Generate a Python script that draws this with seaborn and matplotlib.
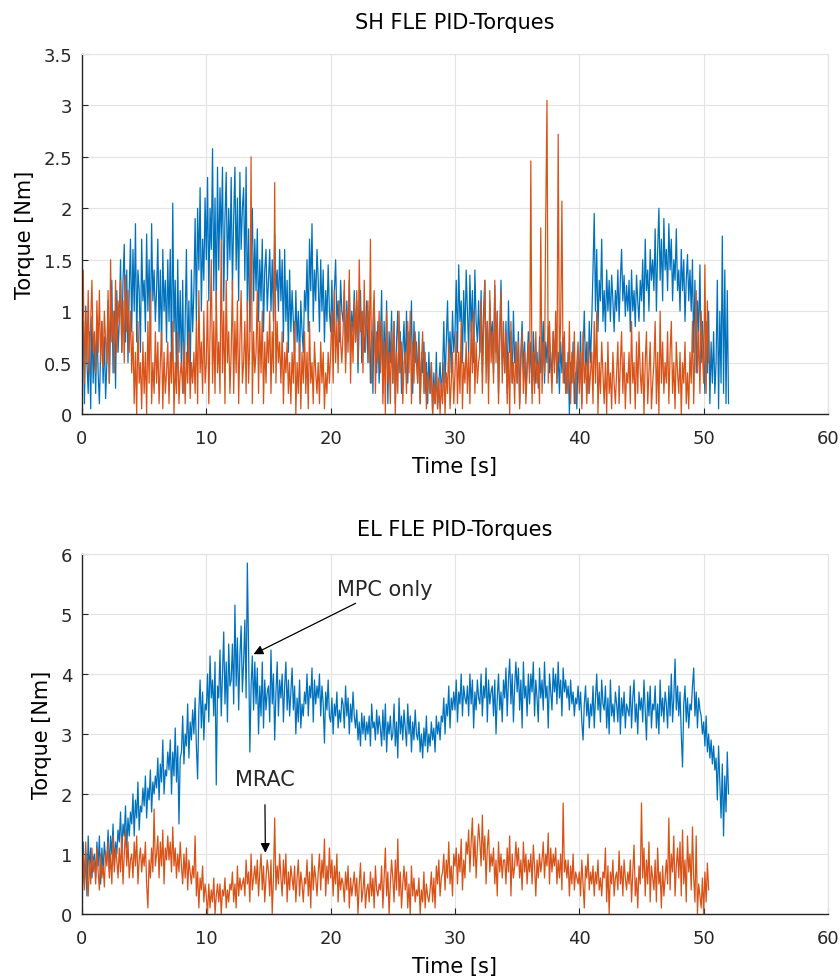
import numpy as np
import pandas as pd
import matplotlib
matplotlib.use("Agg")
import matplotlib.pyplot as plt
import seaborn as sns

DT = 0.1  # spacing of the read-off samples [s]

# SH FLE, MPC only (blue); one row per second
sh_mpc = [
    0.4, 0.9, 0.1, 1.05, 0.5, 0.2, 0.8, 0.05, 0.95, 0.3,
    0.7, 0.2, 0.85, 0.4, 0.1, 0.6, 0.9, 0.3, 0.75, 0.15,
    0.5, 1.1, 0.3, 0.9, 1.3, 0.4, 1.0, 0.25, 1.2, 0.6,
    0.9, 1.5, 0.6, 1.3, 1.65, 0.7, 1.4, 0.5, 1.2, 1.7,
    0.8, 1.6, 1.0, 1.85, 0.7, 1.4, 1.2, 0.6, 1.7, 1.1,
    1.3, 0.8, 1.75, 1.0, 1.5, 0.7, 1.85, 1.1, 1.4, 0.9,
    1.2, 1.7, 0.8, 1.4, 0.6, 1.6, 1.0, 1.3, 0.7, 1.5,
    0.9, 1.6, 0.5, 2.05, 0.8, 1.3, 0.3, 1.5, 0.6, 1.2,
    0.4, 1.3, 0.2, 0.9, 1.6, 0.5, 1.1, 0.3, 1.4, 0.8,
    1.2, 1.9, 0.9, 2.0, 1.4, 2.2, 1.0, 1.7, 1.3, 2.1,
    1.5, 2.3, 1.1, 2.0, 1.6, 2.58, 1.2, 2.1, 1.0, 2.4,
    1.4, 2.2, 1.7, 2.4, 1.1, 1.9, 2.35, 1.3, 2.0, 1.5,
    2.3, 1.2, 1.9, 2.4, 1.4, 2.1, 1.1, 2.35, 1.6, 2.0,
    2.2, 1.3, 2.4, 1.0, 1.8, 0.8, 1.5, 2.0, 1.1, 1.7,
    1.2, 1.8, 0.9, 1.5, 1.1, 1.7, 0.8, 1.4, 1.6, 1.0,
    1.3, 1.6, 1.0, 1.5, 0.9, 1.75, 1.2, 1.4, 1.0, 1.6,
    1.1, 1.5, 0.7, 1.6, 0.9, 1.3, 0.6, 1.4, 0.8, 1.2,
    0.9, 0.6, 1.2, 0.7, 1.0, 0.5, 1.1, 0.8, 0.6, 1.2,
    1.0, 1.5, 0.8, 1.7, 1.2, 1.85, 0.9, 1.4, 1.1, 1.6,
    1.3, 0.8, 1.5, 1.0, 1.4, 0.7, 1.2, 0.9, 1.45, 1.0,
    0.8, 1.3, 0.6, 1.2, 1.5, 0.9, 1.1, 0.7, 1.3, 1.0,
    0.9, 1.2, 0.5, 1.1, 0.7, 1.3, 0.6, 1.0, 0.8, 1.2,
    0.7, 1.1, 0.4, 0.9, 1.2, 0.5, 1.0, 0.6, 0.8, 1.1,
    0.5, 1.0, 0.3, 0.8, 0.2, 1.1, 0.6, 0.4, 0.9, 0.3,
    0.7, 1.2, 0.2, 0.9, 0.4, 1.1, 0.1, 0.8, 0.5, 1.0,
    0.3, 0.9, 0.1, 0.7, 1.0, 0.4, 0.8, 0.2, 0.6, 0.9,
    0.4, 1.0, 0.3, 0.8, 0.6, 1.1, 0.2, 0.9, 0.5, 0.7,
    0.3, 0.8, 0.1, 0.6, 0.4, 0.7, 0.2, 0.5, 0.1, 0.6,
    0.2, 0.5, 0.0, 0.4, 0.1, 0.6, 0.05, 0.3, 0.5, 0.2,
    0.4, 0.9, 0.3, 0.7, 1.1, 0.5, 0.8, 0.4, 1.0, 0.6,
    0.8, 1.3, 0.6, 1.45, 0.9, 1.1, 0.5, 1.2, 0.7, 1.4,
    1.0, 0.6, 1.35, 0.8, 1.2, 0.5, 1.4, 0.9, 0.7, 1.1,
    0.6, 1.2, 0.4, 1.0, 1.3, 0.5, 0.9, 0.3, 1.1, 0.7,
    0.9, 0.4, 1.25, 0.6, 1.0, 0.2, 0.8, 1.3, 0.5, 0.7,
    0.4, 0.9, 0.2, 1.1, 0.6, 0.8, 0.3, 1.0, 0.5, 0.7,
    0.3, 0.8, 0.1, 0.6, 0.9, 0.4, 0.7, 0.2, 0.5, 0.8,
    0.4, 0.7, 0.2, 0.8, 0.5, 0.3, 0.6, 0.25, 0.75, 0.4,
    0.6, 0.9, 0.3, 0.7, 0.5, 0.85, 0.4, 0.6, 0.3, 0.8,
    0.5, 0.8, 0.3, 0.6, 0.2, 0.7, 0.4, 0.75, 0.3, 0.5,
    0.2, 0.6, 0.0, 0.5, 0.3, 0.7, 0.1, 0.4, 0.05, 0.6,
    0.3, 0.8, 0.1, 0.6, 1.0, 0.4, 0.7, 0.2, 0.9, 0.5,
    0.9, 1.4, 1.95, 1.0, 1.6, 0.8, 1.3, 1.1, 1.7, 0.9,
    1.2, 0.8, 1.4, 1.0, 1.3, 0.9, 1.35, 1.1, 0.8, 1.2,
    1.0, 1.4, 0.9, 1.3, 1.6, 1.1, 1.35, 0.95, 1.25, 1.0,
    1.3, 0.8, 1.4, 1.0, 1.2, 0.85, 1.35, 1.1, 0.9, 1.3,
    1.1, 1.5, 0.9, 1.7, 1.2, 1.4, 1.0, 1.6, 1.3, 1.5,
    1.2, 1.8, 1.0, 1.6, 2.0, 1.3, 1.7, 1.1, 1.9, 1.4,
    1.6, 1.2, 1.85, 1.4, 1.7, 1.1, 1.5, 1.3, 1.8, 1.2,
    1.4, 1.0, 1.6, 1.2, 1.5, 0.9, 1.3, 1.55, 1.1, 1.4,
    1.0, 1.5, 0.6, 1.3, 0.4, 1.1, 0.8, 1.45, 0.5, 0.9,
    0.6, 0.2, 0.9, 0.4, 1.0, 0.1, 0.7, 0.3, 0.8, 0.2,
    0.5, 1.3, 0.05, 1.0, 0.3, 1.73, 0.2, 1.4, 0.1, 1.2,
    0.1,
]

# SH FLE, MRAC (orange)
sh_mrac = [
    0.7, 1.4, 0.3, 1.0, 0.5, 1.2, 0.4, 0.9, 1.3, 0.6,
    0.8, 0.4, 1.1, 0.6, 1.2, 0.5, 0.9, 0.45, 1.0, 0.7,
    0.5, 1.2, 0.3, 1.5, 0.7, 1.0, 0.4, 1.3, 0.6, 1.1,
    0.9, 1.3, 0.6, 1.1, 0.5, 1.35, 0.8, 1.2, 0.6, 1.0,
    0.4, 0.8, 0.1, 0.6, 0.0, 0.9, 0.3, 0.5, 0.05, 0.7,
    0.2, 0.6, 0.0, 0.9, 0.3, 1.2, 0.1, 0.5, 0.2, 0.8,
    0.3, 0.7, 0.1, 0.5, 0.8, 0.05, 0.6, 0.2, 0.4, 0.7,
    0.1, 0.6, 0.3, 0.9, 0.0, 0.5, 0.2, 0.8, 0.1, 0.4,
    0.5, 0.2, 0.7, 0.1, 0.6, 0.3, 0.8, 0.15, 0.5, 0.3,
    0.6, 0.2, 0.9, 0.1, 1.2, 0.4, 0.7, 0.2, 1.0, 0.3,
    0.5, 1.1, 0.1, 0.8, 1.5, 0.3, 0.9, 0.2, 1.2, 0.4,
    0.7, 0.2, 1.7, 0.4, 1.0, 0.1, 1.3, 0.5, 0.8, 0.2,
    0.6, 1.3, 0.2, 0.9, 0.4, 1.1, 0.1, 0.7, 1.2, 0.3,
    0.5, 0.9, 0.2, 1.1, 0.3, 0.7, 2.5, 0.1, 0.8, 0.4,
    0.6, 1.2, 0.2, 0.9, 0.4, 1.0, 0.1, 0.7, 0.3, 0.8,
    0.5, 1.0, 0.2, 0.8, 0.4, 2.25, 0.3, 0.9, 0.5, 0.7,
    0.3, 0.8, 0.1, 0.6, 0.4, 0.7, 0.2, 0.5, 0.1, 0.6,
    0.3, 0.9, 0.0, 0.5, 0.2, 0.7, 0.05, 0.6, 0.3, 0.8,
    0.2, 0.6, 0.05, 0.9, 0.3, 0.5, 0.1, 0.7, 0.4, 0.2,
    0.5, 0.1, 0.7, 0.3, 0.6, 0.05, 0.4, 0.2, 0.6, 0.3,
    0.6, 1.0, 0.3, 1.2, 0.5, 0.9, 0.4, 1.1, 0.7, 0.5,
    0.8, 1.3, 0.4, 1.0, 0.6, 1.4, 0.3, 0.9, 0.5, 1.1,
    0.7, 1.2, 0.5, 1.5, 0.8, 1.0, 0.4, 1.3, 0.6, 0.9,
    1.1, 0.5, 1.7, 0.3, 0.9, 1.2, 0.2, 0.8, 0.5, 1.0,
    0.4, 0.9, 0.1, 0.7, 0.0, 1.0, 0.3, 0.6, 0.1, 0.8,
    0.3, 0.9, 0.0, 0.6, 0.2, 1.0, 0.4, 0.7, 0.1, 0.5,
    0.6, 0.2, 0.9, 0.4, 1.0, 0.1, 0.7, 0.3, 0.8, 0.5,
    0.3, 0.7, 0.1, 0.5, 0.8, 0.2, 0.6, 0.05, 0.4, 0.3,
    0.2, 0.5, 0.0, 0.3, 0.1, 0.4, 0.05, 0.35, 0.0, 0.3,
    0.1, 0.5, 0.0, 0.4, 0.2, 0.7, 0.05, 0.3, 0.6, 0.1,
    0.4, 0.8, 0.1, 0.6, 0.2, 0.9, 0.05, 0.5, 0.3, 0.7,
    0.2, 0.6, 0.1, 0.9, 0.4, 1.0, 0.2, 0.7, 0.3, 0.5,
    0.6, 1.1, 0.2, 0.8, 1.3, 0.3, 0.9, 0.1, 1.2, 0.5,
    0.8, 0.3, 1.3, 0.5, 1.0, 0.1, 0.7, 1.2, 0.3, 0.9,
    0.4, 0.8, 0.1, 0.6, 0.0, 0.9, 0.3, 0.5, 0.1, 0.7,
    0.3, 0.7, 0.05, 0.5, 0.8, 0.2, 0.6, 0.1, 0.4, 0.7,
    0.3, 2.46, 0.1, 0.6, 0.2, 0.8, 0.3, 0.5, 0.1, 1.81,
    0.2, 0.7, 0.4, 1.94, 3.05, 0.3, 0.9, 0.5, 0.2, 0.8,
    0.4, 1.0, 0.3, 2.72, 0.5, 0.9, 2.07, 0.3, 0.8, 0.2,
    0.5, 0.2, 0.9, 0.1, 0.6, 0.3, 0.8, 0.1, 0.5, 0.7,
    0.2, 0.6, 0.05, 0.8, 0.3, 0.5, 0.1, 0.7, 0.2, 0.4,
    0.6, 0.1, 0.9, 0.3, 1.0, 0.0, 0.5, 0.2, 0.7, 0.4,
    0.1, 0.5, 0.0, 0.7, 0.2, 0.4, 0.05, 0.6, 0.3, 0.1,
    0.4, 0.7, 0.1, 0.5, 0.8, 0.2, 0.6, 0.05, 0.4, 0.3,
    0.6, 0.1, 0.9, 0.3, 0.5, 0.05, 0.7, 0.2, 0.8, 0.4,
    0.2, 0.6, 0.0, 0.5, 0.8, 0.1, 0.4, 0.7, 0.05, 0.3,
    0.5, 0.9, 0.1, 0.6, 0.0, 1.0, 0.3, 0.7, 0.2, 0.5,
    0.3, 0.8, 0.1, 0.6, 0.9, 0.2, 0.5, 0.05, 0.7, 0.4,
    0.2, 0.6, 0.0, 0.5, 0.3, 0.7, 0.1, 0.4, 0.05, 0.6,
    0.3, 0.9, 0.1, 0.7, 1.2, 0.4, 0.8, 0.2, 1.0, 0.6,
    0.3, 1.45, 0.2, 1.1, 0.5,
]

# EL FLE, MPC only (blue)
el_mpc = [
    0.8, 1.2, 0.5, 1.0, 0.3, 1.3, 0.7, 1.1, 0.6, 0.9,
    1.0, 0.6, 1.2, 0.8, 1.3, 0.5, 1.1, 0.7, 1.2, 0.9,
    0.9, 1.4, 0.7, 1.3, 1.0, 1.5, 0.8, 1.2, 1.0, 1.4,
    1.2, 1.7, 1.0, 1.5, 1.3, 1.8, 1.1, 1.6, 1.3, 1.7,
    1.5, 2.0, 1.3, 1.9, 1.6, 2.2, 1.4, 1.8, 1.7, 2.1,
    1.8, 2.3, 1.6, 2.1, 1.9, 2.4, 1.7, 2.2, 2.0, 2.3,
    2.1, 2.6, 1.9, 2.5, 2.2, 2.9, 2.0, 2.4, 2.3, 2.7,
    2.4, 2.9, 2.0, 2.7, 2.3, 3.1, 2.2, 2.8, 1.5, 2.6,
    2.7, 3.3, 2.5, 3.0, 2.8, 3.5, 2.6, 3.2, 2.9, 3.4,
    3.0, 3.6, 2.8, 2.25, 3.4, 3.9, 3.1, 3.7, 2.9, 3.5,
    3.4, 4.0, 3.2, 4.3, 3.6, 3.9, 3.3, 4.2, 2.15, 3.8,
    3.6, 4.4, 3.3, 4.0, 4.7, 3.5, 4.2, 3.2, 4.5, 3.8,
    3.9, 4.5, 3.5, 5.15, 3.8, 4.6, 3.4, 4.3, 4.8, 3.7,
    4.2, 4.9, 3.6, 5.85, 4.4, 2.7, 3.8, 4.3, 3.4, 4.2,
    3.5, 4.1, 3.0, 3.8, 3.3, 4.2, 3.1, 3.9, 3.4, 3.7,
    3.8, 3.2, 4.4, 3.5, 4.0, 2.9, 3.7, 4.2, 3.3, 3.9,
    3.6, 4.0, 3.2, 3.8, 4.2, 3.4, 3.9, 3.3, 3.7, 4.1,
    3.4, 3.8, 3.0, 3.6, 3.2, 3.9, 3.1, 3.5, 3.3, 3.7,
    3.5, 4.0, 3.3, 3.8, 3.6, 4.1, 3.2, 3.9, 3.5, 3.8,
    3.6, 4.0, 3.3, 3.8, 3.5, 2.85, 3.7, 3.4, 3.9, 3.3,
    3.2, 3.6, 3.0, 3.5, 3.3, 3.7, 3.1, 3.4, 3.2, 3.6,
    3.5, 3.1, 3.8, 3.3, 3.6, 3.0, 3.5, 3.2, 3.7, 3.3,
    3.1, 3.4, 2.9, 3.2, 2.8, 3.35, 3.0, 3.3, 2.9, 3.2,
    3.0, 3.3, 2.8, 3.5, 3.1, 3.2, 2.9, 3.4, 3.0, 3.3,
    3.1, 2.8, 3.4, 2.9, 3.5, 2.7, 3.2, 3.0, 3.3, 2.9,
    3.0, 3.5, 2.8, 3.2, 2.6, 3.6, 3.0, 3.3, 2.9, 3.4,
    3.1, 2.8, 3.5, 3.0, 3.3, 2.7, 3.2, 2.9, 3.4, 3.0,
    2.9, 3.2, 2.7, 3.0, 2.6, 3.1, 2.8, 3.3, 2.7, 3.0,
    2.8, 3.2, 2.9, 3.1, 2.7, 3.3, 3.0, 3.2, 2.9, 3.3,
    3.2, 3.6, 3.0, 3.5, 3.3, 3.8, 3.1, 3.6, 3.4, 3.7,
    3.4, 3.9, 3.2, 3.7, 3.5, 4.0, 3.3, 3.8, 3.6, 3.5,
    3.8, 3.3, 4.0, 3.5, 3.9, 3.1, 3.7, 3.4, 3.9, 3.6,
    3.5, 4.0, 3.3, 3.8, 3.6, 4.1, 3.2, 3.9, 3.5, 3.7,
    3.8, 3.3, 3.9, 3.0, 3.6, 4.0, 3.4, 3.7, 3.2, 3.9,
    3.6, 4.1, 3.3, 3.9, 4.25, 3.5, 4.0, 3.2, 3.8, 4.2,
    3.7, 4.1, 3.4, 3.9, 3.1, 4.2, 3.6, 3.8, 3.3, 4.0,
    3.5, 4.0, 3.7, 4.2, 3.3, 3.9, 3.6, 3.2, 4.1, 3.6,
    3.9, 3.4, 4.2, 3.6, 3.8, 3.1, 4.0, 3.7, 3.4, 4.1,
    3.7, 4.0, 3.5, 4.2, 3.6, 3.9, 3.3, 4.1, 3.7, 3.9,
    3.6, 3.8, 3.4, 3.9, 3.5, 3.7, 3.3, 3.6, 3.5, 3.8,
    3.4, 3.7, 3.2, 2.9, 3.5, 3.8, 3.3, 3.6, 3.1, 3.5,
    3.3, 3.8, 3.1, 3.6, 4.0, 3.4, 3.7, 3.2, 3.9, 3.5,
    3.4, 3.8, 3.1, 3.6, 3.0, 3.9, 3.3, 3.5, 3.2, 3.7,
    3.5, 3.2, 3.8, 3.0, 3.6, 3.3, 3.7, 3.1, 3.5, 3.4,
    3.3, 3.8, 3.1, 3.6, 3.9, 3.2, 3.5, 3.0, 3.7, 3.4,
    3.6, 3.2, 3.9, 3.4, 2.9, 3.7, 3.3, 3.8, 3.1, 3.5,
    3.4, 3.8, 3.1, 3.5, 3.0, 3.9, 3.3, 3.6, 3.2, 3.7,
    3.5, 3.1, 3.8, 3.3, 4.0, 3.2, 3.6, 4.25, 3.4, 3.8,
    3.3, 3.7, 3.0, 2.45, 3.5, 3.8, 3.2, 3.6, 3.1, 3.5,
    3.4, 3.8, 4.1, 3.3, 3.7, 3.1, 3.6, 3.4, 3.3, 3.0,
    3.2, 2.8, 3.3, 2.7, 3.0, 2.6, 2.9, 2.5, 2.8, 2.4,
    2.6, 1.9, 2.8, 2.2, 1.6, 2.5, 1.3, 2.3, 1.7, 2.7,
    2.0,
]

# EL FLE, MRAC (orange)
el_mrac = [
    0.0, 1.0, 0.4, 1.2, 0.6, 0.3, 0.9, 0.5, 1.1, 0.7,
    0.9, 0.5, 1.1, 0.7, 0.4, 1.0, 0.6, 0.8, 0.45, 1.05,
    0.8, 1.2, 0.6, 1.0, 0.5, 1.3, 0.7, 1.1, 0.9, 0.6,
    1.1, 0.7, 1.3, 0.5, 1.0, 1.4, 0.8, 1.2, 0.6, 0.9,
    1.0, 0.6, 1.2, 0.8, 1.3, 0.5, 0.9, 1.1, 0.7, 1.0,
    0.8, 1.2, 0.5, 0.1, 0.9, 0.6, 1.1, 0.7, 1.75, 0.8,
    1.0, 1.3, 0.6, 1.2, 0.8, 1.4, 0.5, 1.1, 0.9, 1.3,
    0.9, 1.2, 0.7, 1.45, 0.8, 1.1, 0.6, 1.0, 0.7, 1.2,
    0.8, 0.5, 1.0, 0.6, 1.1, 0.4, 0.9, 0.7, 0.5, 0.8,
    0.6, 1.3, 0.3, 0.7, 0.1, 0.6, 0.4, 0.8, 0.2, 0.5,
    0.3, 0.0, 0.5, 0.1, 0.4, 0.2, 0.6, 0.0, 0.3, 0.5,
    0.2, 0.5, 0.0, 0.4, 0.3, 0.6, 0.1, 0.4, 0.2, 0.5,
    0.4, 0.7, 0.2, 0.5, 0.1, 0.8, 0.3, 0.6, 0.4, 0.5,
    0.6, 0.3, 0.9, 0.5, 0.7, 0.2, 1.0, 0.4, 0.6, 0.8,
    0.5, 0.9, 0.3, 0.7, 1.0, 0.4, 0.8, 0.2, 0.6, 0.9,
    0.7, 0.3, 0.9, 0.0, 0.6, 1.6, 0.4, 0.8, 0.5, 1.0,
    0.6, 0.3, 0.9, 0.5, 1.0, 0.2, 0.7, 0.4, 0.8, 0.6,
    0.4, 0.8, 0.2, 0.6, 0.9, 0.3, 0.7, 0.5, 0.2, 0.6,
    0.5, 0.9, 0.3, 0.7, 0.1, 1.0, 0.4, 0.8, 0.6, 0.3,
    0.7, 1.0, 0.4, 0.9, 0.6, 1.25, 0.3, 0.8, 0.5, 1.1,
    0.6, 0.9, 0.3, 0.8, 0.5, 1.0, 0.2, 0.7, 0.4, 0.6,
    0.5, 0.2, 0.7, 0.4, 0.8, 0.1, 0.6, 0.3, 0.5, 0.7,
    0.3, 0.6, 0.0, 0.5, 0.85, 0.2, 0.4, 0.7, 0.1, 0.4,
    0.5, 0.2, 0.7, 0.3, 0.6, 0.1, 0.8, 0.4, 0.3, 0.5,
    0.4, 0.8, 0.1, 0.6, 1.1, 0.3, 0.7, 0.0, 0.5, 0.9,
    0.6, 0.2, 0.9, 0.4, 1.25, 0.3, 0.7, 0.1, 0.5, 0.8,
    0.4, 0.7, 0.1, 0.5, 0.0, 0.8, 0.3, 0.6, 0.2, 0.4,
    0.3, 0.6, 0.0, 0.4, 0.2, 0.7, 0.1, 0.5, 0.3, 0.2,
    0.4, 0.7, 0.2, 0.6, 0.1, 0.8, 0.5, 0.9, 0.3, 0.6,
    0.7, 1.0, 0.4, 0.9, 0.6, 1.2, 0.5, 0.8, 0.3, 1.0,
    0.8, 1.1, 0.5, 1.0, 0.7, 1.25, 0.4, 0.9, 0.6, 1.2,
    1.0, 1.4, 0.7, 1.2, 1.6, 0.8, 1.3, 0.6, 1.1, 1.5,
    1.2, 0.8, 1.65, 0.9, 1.3, 0.5, 1.1, 1.4, 0.7, 1.0,
    0.8, 1.1, 0.5, 0.9, 0.3, 1.2, 0.7, 1.0, 0.6, 0.9,
    0.9, 0.5, 1.1, 0.7, 1.3, 0.3, 1.0, 0.6, 0.8, 1.2,
    0.8, 1.1, 0.6, 0.9, 0.4, 1.2, 0.7, 1.0, 0.5, 0.9,
    0.7, 1.0, 0.5, 1.15, 0.8, 0.3, 0.9, 0.6, 1.0, 0.7,
    0.9, 1.2, 0.6, 1.0, 0.8, 1.35, 0.5, 1.1, 0.7, 1.0,
    0.8, 1.1, 0.5, 0.9, 0.6, 1.0, 0.4, 1.85, 0.7, 0.9,
    0.6, 0.9, 0.3, 0.8, 0.5, 1.0, 0.4, 0.7, 0.6, 0.5,
    0.7, 0.3, 0.9, 0.5, 0.1, 0.8, 0.6, 1.0, 0.4, 0.7,
    0.5, 0.8, 0.3, 0.7, 0.5, 0.9, 0.4, 0.6, 0.3, 0.7,
    0.6, 1.1, 0.2, 0.8, 0.0, 0.7, 0.5, 0.9, 0.3, 0.6,
    0.7, 0.4, 1.05, 0.5, 0.8, 0.3, 0.9, 0.6, 0.4, 0.7,
    0.5, 0.9, 0.2, 0.7, 1.15, 0.3, 0.6, 0.1, 0.8, 0.5,
    1.85, 0.6, 1.1, 0.3, 0.9, 0.5, 1.2, 0.2, 0.8, 0.6,
    0.4, 0.9, 0.2, 1.1, 0.5, 0.7, 0.1, 0.8, 0.3, 0.6,
    0.9, 0.5, 1.6, 0.4, 1.0, 0.7, 1.3, 0.3, 0.8, 1.1,
    0.6, 1.2, 0.3, 1.4, 0.5, 0.9, 0.2, 1.3, 0.7, 1.0,
    0.4, 1.45, 0.6, 0.2, 1.3, 0.0, 0.5, 0.3, 0.1, 0.6,
    0.0, 0.7, 0.2, 0.85, 0.4,
]

titles = ["SH FLE PID-Torques", "EL FLE PID-Torques"]
xlabel = "Time [s]"
ylabel = "Torque [Nm]"
x_ticks = [0, 10, 20, 30, 40, 50, 60]
y_ticks_top = [0, 0.5, 1, 1.5, 2, 2.5, 3, 3.5]
y_tick_labels_top = ["0", "0.5", "1", "1.5", "2", "2.5", "3", "3.5"]
y_ticks_bot = [0, 1, 2, 3, 4, 5, 6]

BLUE = "#0072BD"
ORANGE = "#D95319"


def frame(vals):
    return pd.DataFrame({"t": np.arange(len(vals)) * DT, "v": vals})


sns.set_style("whitegrid")
plt.rcParams["font.family"] = ["DejaVu Sans"]

fig = plt.figure(figsize=(8.4, 9.79), dpi=100)
ax1 = fig.add_axes([0.0976, 0.5761, 0.8881, 0.3677])
ax2 = fig.add_axes([0.0976, 0.0654, 0.8881, 0.3677])

for ax, blue, orange, yt, ylim, title, tpad in [
    (ax1, sh_mpc, sh_mrac, y_ticks_top, 3.5, titles[0], 19),
    (ax2, el_mpc, el_mrac, y_ticks_bot, 6, titles[1], 14),
]:
    sns.lineplot(data=frame(blue), x="t", y="v", ax=ax, color=BLUE,
                 lw=0.9, estimator=None, sort=False)
    sns.lineplot(data=frame(orange), x="t", y="v", ax=ax, color=ORANGE,
                 lw=0.9, estimator=None, sort=False)
    ax.set_xlim(0, 60)
    ax.set_ylim(0, ylim)
    ax.set_xticks(x_ticks)
    ax.set_yticks(yt)
    ax.set_title(title, fontsize=15, color="#000000", pad=tpad)
    ax.set_xlabel(xlabel, fontsize=15, color="#000000", labelpad=6)
    ax.set_ylabel(ylabel, fontsize=15, color="#000000", labelpad=6)
    ax.grid(True, color="#e3e3e3", lw=0.8)
    for s in ["top", "right"]:
        ax.spines[s].set_color("#e3e3e3")
    for s in ["left", "bottom"]:
        ax.spines[s].set_color("#262626")
        ax.spines[s].set_linewidth(1.0)
    ax.tick_params(axis="both", direction="in", length=4, width=0.8,
                   labelsize=13, colors="#262626", left=True, bottom=True)
    ax.tick_params(axis="x", pad=11)
    ax.tick_params(axis="y", pad=7)

ax1.set_yticklabels(y_tick_labels_top)

ax2.annotate("MPC only", xy=(13.8, 4.33), xytext=(20.5, 5.42),
             fontsize=15, va="center", ha="left",
             arrowprops=dict(arrowstyle="-|>", color="black", lw=0.9,
                             shrinkA=2, shrinkB=0, mutation_scale=14))
ax2.annotate("MRAC", xy=(14.75, 1.02), xytext=(14.7, 2.25),
             fontsize=15, va="center", ha="center",
             arrowprops=dict(arrowstyle="-|>", color="black", lw=0.9,
                             shrinkA=9, shrinkB=0, mutation_scale=14))

fig.savefig("out.png", dpi=100)
